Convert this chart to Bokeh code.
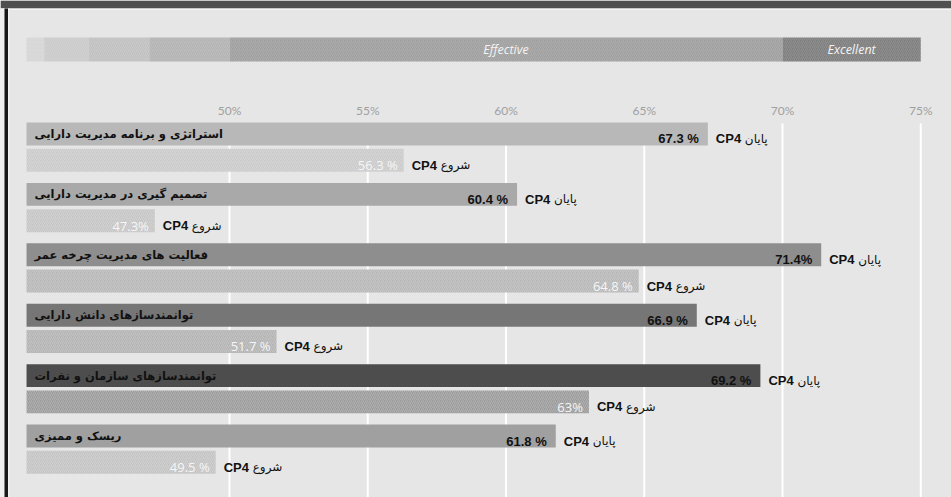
from bokeh.plotting import figure
from bokeh.models import Range1d, ColumnDataSource
from bokeh.core.properties import value
from bokeh.embed import file_html
from bokeh.resources import INLINE

# ---------------- data ----------------
categories = [
    "استراتژی و برنامه مدیریت دارایی",
    "تصمیم گیری در مدیریت دارایی",
    "فعالیت های مدیریت چرخه عمر",
    "توانمندسازهای دانش دارایی",
    "توانمندسازهای سازمان و نفرات",
    "ریسک و ممیزی",
]
end_values = [67.3, 60.4, 71.4, 66.9, 69.2, 61.8]
start_values = [56.3, 47.3, 64.8, 51.7, 63.0, 49.5]
end_value_labels = ["67.3 %", "60.4 %", "71.4%", "66.9 %", "69.2 %", "61.8 %"]
start_value_labels = ["56.3 %", "47.3%", "64.8 %", "51.7 %", "63%", "49.5 %"]
end_tag = "پایان"
start_tag = "شروع"
series_code = "CP4"

tick_values = [50, 55, 60, 65, 70, 75]
tick_labels = ["50%", "55%", "60%", "65%", "70%", "75%"]

band_edges = [42.66, 43.3, 44.9, 47.1, 50, 70, 75]
band_labels = ["", "", "", "", "Effective", "Excellent"]

# ---------------- style ----------------
end_colors = ["#b8b8b8", "#a9a9a9", "#8e8e8e", "#767676", "#4d4d4d", "#a0a0a0"]
start_colors = ["#cbcbcb", "#c6c6c6", "#b8b8b8", "#b4b4b4", "#9c9c9c", "#c4c4c4"]
band_colors = ["#d6d6d6", "#cbcbcb", "#c1c1c1", "#b4b4b4", "#a0a0a0", "#7f7f7f"]
BG = "#e6e6e6"
BASE = 42.66
BAR_H = 0.38
START_OFF = 0.435

W, H = 951, 497
X0, X1 = 41.718, 76.112
Y_BOTTOM, Y_TOP = 6.018, -2.210
PX_X = (X1 - X0) / W
PX_Y = (Y_BOTTOM - Y_TOP) / H

p = figure(width=W, height=H, output_backend="svg", toolbar_location=None,
           x_range=Range1d(X0, X1), y_range=Range1d(Y_BOTTOM, Y_TOP),
           min_border=0, min_border_left=0, min_border_right=0,
           min_border_top=0, min_border_bottom=0)
p.axis.visible = False
p.grid.visible = False
p.outline_line_color = None
p.background_fill_color = BG
p.border_fill_color = BG

# frame decoration (dark header strip and left border)
p.quad(left=X0, right=X1, top=Y_TOP, bottom=Y_TOP + 8 * PX_Y, fill_color="#505050", line_color=None)
p.quad(left=X0, right=X1, top=Y_TOP + 8 * PX_Y, bottom=Y_TOP + 9.5 * PX_Y, fill_color="#f4f4f4", line_color=None)
p.quad(left=X0, right=X0 + 4 * PX_X, top=Y_TOP + 8 * PX_Y, bottom=Y_BOTTOM, fill_color="#f2f2f2", line_color=None)
p.quad(left=X0 + 4 * PX_X, right=X0 + 7.5 * PX_X, top=Y_TOP + 8 * PX_Y, bottom=Y_BOTTOM, fill_color="#1a1a1a", line_color=None)
p.quad(left=X0 + 7.5 * PX_X, right=X0 + 9 * PX_X, top=Y_TOP + 8 * PX_Y, bottom=Y_BOTTOM, fill_color="#f4f4f4", line_color=None)

n = len(categories)
rows = list(range(n))
rows_start = [r + START_OFF for r in rows]

# gridlines
p.segment(x0=tick_values, x1=tick_values, y0=[-0.174] * len(tick_values),
          y1=[Y_BOTTOM] * len(tick_values), line_color="white", line_width=2)

# tick labels
p.text(x=tick_values, y=[-0.39] * len(tick_values), text=tick_labels,
       text_align="center", text_baseline="middle", text_color="#a0a0a0",
       text_font=value("Lato"), text_font_size="12px")

# scale band
band_src = ColumnDataSource(dict(left=band_edges[:-1], right=band_edges[1:],
                                 color=band_colors, label=band_labels,
                                 mid=[(a + b) / 2 for a, b in zip(band_edges[:-1], band_edges[1:])]))
p.quad(left="left", right="right", bottom=-1.2, top=-1.598, fill_color="color",
       line_color=None, source=band_src,
       hatch_pattern="right_diagonal_line", hatch_color="white",
       hatch_alpha=0.12, hatch_scale=4, hatch_weight=1)
p.text(x="mid", y=-1.399, text="label", source=band_src, text_align="center",
       text_baseline="middle", text_color="#f4f4f4", text_font=value("Open Sans"),
       text_font_style="italic", text_font_size="12.5px")

# bars
src = ColumnDataSource(dict(row=rows, row_s=rows_start, cat=categories,
                            endv=end_values, startv=start_values,
                            endl=end_value_labels, startl=start_value_labels,
                            ec=end_colors, sc=start_colors,
                            code=[series_code] * n, etag=[end_tag] * n,
                            stag=[start_tag] * n, base=[BASE] * n))

p.hbar(y="row", left="base", right="endv", height=BAR_H, fill_color="ec",
       line_color=None, source=src)
p.hbar(y="row_s", left="base", right="startv", height=BAR_H, fill_color="sc",
       line_color=None, source=src,
       hatch_pattern="right_diagonal_line", hatch_color="white",
       hatch_alpha=0.2, hatch_scale=4, hatch_weight=1)

# category labels inside end bars
p.text(x="base", y="row", text="cat", source=src, x_offset=8, y_offset=0,
       text_align="left", text_baseline="middle", text_color="#111111",
       text_font=value("DejaVu Sans"), text_font_style="bold", text_font_size="11.5px")

# end values inside bars
p.text(x="endv", y="row", text="endl", source=src, x_offset=-9, y_offset=5,
       text_align="right", text_baseline="alphabetic", text_color="#111111",
       text_font=value("Liberation Sans"), text_font_style="bold", text_font_size="13px")
# start values inside bars
p.text(x="startv", y="row_s", text="startl", source=src, x_offset=-6, y_offset=5,
       text_align="right", text_baseline="alphabetic", text_color="#f6f6f6",
       text_font=value("Open Sans"), text_font_size="13px")

# series tags outside bars
for yk, xk, tk in (("row", "endv", "etag"), ("row_s", "startv", "stag")):
    p.text(x=xk, y=yk, text="code", source=src, x_offset=8, y_offset=5,
           text_align="left", text_baseline="alphabetic", text_color="#111111",
           text_font=value("Liberation Sans"), text_font_style="bold", text_font_size="13px")
    p.text(x=xk, y=yk, text=tk, source=src, x_offset=37, y_offset=5,
           text_align="left", text_baseline="alphabetic", text_color="#111111",
           text_font=value("DejaVu Sans"), text_font_size="12px")

open("out.html", "w", encoding="utf-8").write(file_html(p, INLINE))
